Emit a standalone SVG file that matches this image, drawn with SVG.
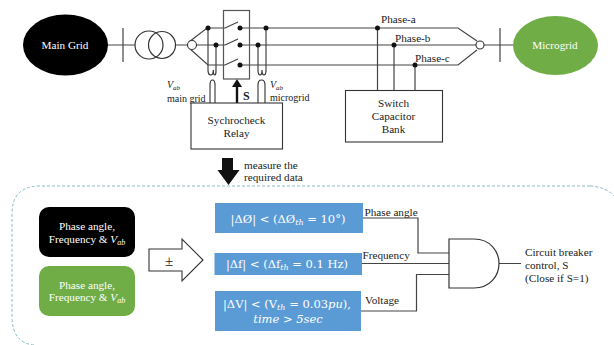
<svg xmlns="http://www.w3.org/2000/svg" width="614" height="345" viewBox="0 0 614 345">
<style>
text{font-family:"Liberation Serif","Times New Roman",serif;font-size:11.2px;fill:#222}
.c{text-anchor:middle}
.w{fill:#fff}
.m{font-family:"DejaVu Serif",serif;font-size:11.500px;fill:#fff;text-anchor:middle}
.i{font-style:italic}
.s{font-size:10px}
.l{fill:none;stroke:#444;stroke-width:1.2}
.k{fill:none;stroke:#333;stroke-width:1.2}
.d{fill:#111}
.b{fill:#fff;stroke:#333;stroke-width:1.1}
.blue{fill:#5b9bd5}
</style>
<rect width="614" height="345" fill="#fff"/>
<g id="dashed-frame"><path d="M590 186H40Q12 186 12 214V316Q12 343 34 345" fill="none" stroke="#8db8c8" stroke-width="1" stroke-dasharray="3 2"/><path d="M590 186Q606 187 614 196" fill="none" stroke="#8db8c8" stroke-width="1" stroke-dasharray="3 2"/></g>
<g id="connectors">
<path class="l" d="M108 45H135M123 28V62M175 45H188"/>
<path class="l" d="M196 45H225M189 42L207 28H225L238 22M189 48L208 65H225L238 59M225 45L238 39"/>
<path class="l" d="M240 28H458L477 41M240 45H476M240 65H458L477 50M484 45H513M500 28V62"/>
<path class="l" d="M208 28V70M216 45V70M266 28V70M258 45V70"/>
<path class="k" d="M208 70q0 5 2.700 5t2.600-5M213.300 70q0 5 1.400 5t1.300-5"/>
<path class="k" d="M258 70q0 5 2 5t2-5M262 70q0 5 2 5t2-5"/>
<path class="k" d="M210 85q0-5 2.500-5t2.500 5M258 85q0-5 3.500-5t3.500 5"/>
<path class="l" d="M210 85V103M215 85V103M258 85V103M265 85V103"/>
<path class="l" d="M377.500 28V90M394 45V90M415 65V90"/>
<path d="M237 103V86" stroke="#111" stroke-width="2.400" fill="none"/><path d="M232 87L237 79L242 87Z" fill="#111"/>
<path d="M222 158H233V170H239.500L228.500 185L217.500 170H222Z" fill="#111"/>
<path class="l" d="M363 218H418V253H449M362 263.500H449M361 311H416.500V274.500H449M499 263.500H521"/>
</g>
<g id="main-grid"><ellipse cx="65.500" cy="45" rx="42.500" ry="30.500" fill="#000"/><text class="c w" x="65" y="49">Main Grid</text></g>
<g id="transformer"><circle class="k" cx="149" cy="45" r="14"/><circle class="k" cx="162" cy="45" r="13.500"/><circle class="b" cx="192" cy="45" r="4.500"/></g>
<g id="switch"><rect x="223.500" y="10.500" width="26" height="68.500" fill="none" stroke="#555" stroke-width="1.200"/>
<circle class="d" cx="208" cy="28" r="2.500"/><circle class="d" cx="216" cy="45" r="2.500"/><circle class="d" cx="240" cy="28" r="2.500"/><circle class="d" cx="240" cy="45" r="2.500"/><circle class="d" cx="240" cy="65" r="2.500"/><circle class="d" cx="266" cy="28" r="2.500"/><circle class="d" cx="258" cy="45" r="2.500"/></g>
<g id="labels-vab"><text class="i s" x="167" y="88">V<tspan font-size="7" dy="1.500">ab</tspan></text><text class="s" x="167" y="102">main grid</text><text class="i s" x="270" y="88">V<tspan font-size="7" dy="1.500">ab</tspan></text><text class="s" x="270" y="101">microgrid</text><text x="243" y="100" font-weight="bold" style="font-size:12px">S</text></g>
<g id="relay"><rect class="b" x="191" y="103" width="91.500" height="46"/><text class="c" x="236.500" y="124">Sychrocheck</text><text class="c" x="236.500" y="137">Relay</text></g>
<g id="capacitor-bank"><rect class="b" x="345.500" y="90.500" width="97" height="51.500"/><text class="c" x="393.500" y="107">Switch</text><text class="c" x="393.500" y="120">Capacitor</text><text class="c" x="393.500" y="133">Bank</text>
<circle class="d" cx="377.500" cy="28" r="2.500"/><circle class="d" cx="394" cy="45" r="2.500"/><circle class="d" cx="415" cy="65" r="2.500"/>
<text x="381" y="23">Phase-a</text><text x="395" y="42">Phase-b</text><text x="415" y="62">Phase-c</text></g>
<g id="microgrid"><circle class="b" cx="480" cy="45" r="4"/><ellipse cx="555.500" cy="45.500" rx="42.500" ry="29.500" fill="#70ad47"/><text class="c w" x="555" y="49">Microgrid</text></g>
<g id="measure-label"><text x="244" y="169">measure the</text><text x="244" y="181">required data</text></g>
<g id="source-main"><rect x="39" y="207" width="96" height="50" rx="10" fill="#000"/><text class="c w" x="87" y="230">Phase angle,</text><text class="c w" x="87" y="243">Frequency &amp; <tspan class="i">V</tspan><tspan class="i" font-size="8" dy="2">ab</tspan></text></g>
<g id="source-micro"><rect x="39" y="266" width="96" height="50" rx="10" fill="#70ad47"/><text class="c w" x="87" y="289">Phase angle,</text><text class="c w" x="87" y="301">Frequency &amp; <tspan class="i">V</tspan><tspan class="i" font-size="8" dy="2">ab</tspan></text></g>
<g id="compare-arrow"><path class="b" d="M149 249H182V239L203 260L182 281V271H149Z"/><text class="c" x="169" y="266" style="font-size:15px">±</text></g>
<g id="check-phase"><rect class="blue" x="215" y="203" width="148" height="30"/><text class="m" x="288" y="223">|ΔØ| &lt; (ΔØ<tspan class="i" font-size="8" dy="2">th</tspan><tspan dy="-2"> = 10°)</tspan></text></g>
<g id="check-freq"><rect class="blue" x="214.500" y="253" width="147.500" height="22"/><text class="m" x="287" y="268">|Δf| &lt; (Δf<tspan class="i" font-size="8" dy="2">th</tspan><tspan dy="-2"> = 0.1 Hz)</tspan></text></g>
<g id="check-volt"><rect class="blue" x="215" y="291" width="146" height="40"/><text class="m" x="287" y="308">|ΔV| &lt; (V<tspan class="i" font-size="8" dy="2">th</tspan><tspan dy="-2"> = 0.03</tspan><tspan class="i">pu</tspan>),</text><text class="m i" x="288" y="323">time &gt; 5sec</text></g>
<g id="and-gate"><path d="M449 239H474C490 239 499 251 499 263.500C499 276 490 288 474 288H449Z" fill="#fff" stroke="#333" stroke-width="1.200"/></g>
<g id="signal-labels"><text x="364.500" y="216">Phase angle</text><text x="362.500" y="259">Frequency</text><text x="365" y="304">Voltage</text><text x="525" y="256">Circuit breaker</text><text x="525" y="269">control, S</text><text x="525" y="282">(Close if S=1)</text></g>
</svg>
